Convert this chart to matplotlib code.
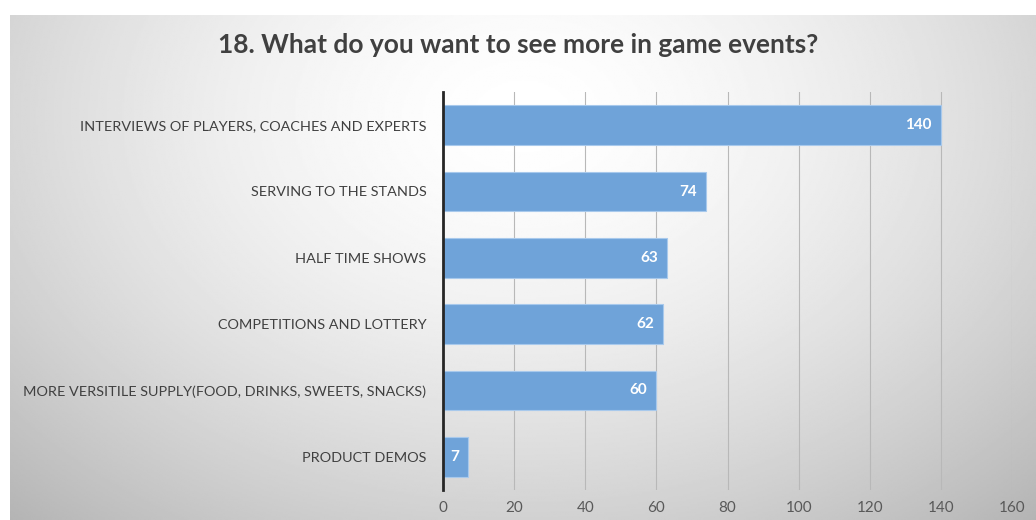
import numpy as np
import matplotlib
matplotlib.use("Agg")
import matplotlib.pyplot as plt

categories = [
    "INTERVIEWS OF PLAYERS, COACHES AND EXPERTS",
    "SERVING TO THE STANDS",
    "HALF TIME SHOWS",
    "COMPETITIONS AND LOTTERY",
    "MORE VERSITILE SUPPLY(FOOD, DRINKS, SWEETS, SNACKS)",
    "PRODUCT DEMOS",
]
values = [140, 74, 63, 62, 60, 7]
xticks = [0, 20, 40, 60, 80, 100, 120, 140, 160]
title = "18. What do you want to see more in game events?"

FONT = "Lato"
W, H = 1036, 520
fig = plt.figure(figsize=(W / 100, H / 100), dpi=100)
fig.patch.set_facecolor("white")

# radial grey gradient behind the chart, leaving a thin white margin top/left
bg = fig.add_axes([10 / W, 0, 1 - 10 / W, 1 - 15 / H])
yy, xx = np.mgrid[0:1:300j, 0:1:600j]
r = np.sqrt(((xx - 0.5) / 0.75) ** 2 + ((yy - 0.2) / 1.1) ** 2)
shade = 1.0 - 0.30 * np.clip(r, 0, 1) ** 1.6
bg.imshow(shade, cmap="gray", vmin=0, vmax=1, aspect="auto", extent=[0, 1, 1, 0])
bg.axis("off")

ax = fig.add_axes([443 / W, 1 - 490 / H, (1012 - 443) / W, (490 - 92) / H])
ax.patch.set_alpha(0)
y = np.arange(len(categories))
bars = ax.barh(y, values, height=0.6, color="#6fa3d9", edgecolor="#a8c9ec",
               linewidth=0.8, zorder=3)
ax.set_ylim(len(categories) - 0.5, -0.5)
ax.set_xlim(0, 160)
ax.set_xticks(xticks)
ax.set_yticks(y)
ax.set_yticklabels(categories, fontsize=10.4, color="#404040", family=FONT)
ax.tick_params(axis="both", length=0)
ax.tick_params(axis="y", pad=12)
ax.tick_params(axis="x", pad=8, labelsize=11, labelcolor="#595959")
for lbl in ax.get_xticklabels():
    lbl.set_family(FONT)
ax.grid(axis="x", color="#b8b8b8", linewidth=0.8, zorder=0)
for s in ["top", "right", "bottom"]:
    ax.spines[s].set_visible(False)
ax.spines["left"].set_color("#262626")
ax.spines["left"].set_linewidth(2)
ax.spines["left"].set_zorder(4)

for b, v in zip(bars, values):
    ax.text(v - 2.5, b.get_y() + b.get_height() / 2, str(v), ha="right", va="center",
            color="white", fontsize=11, fontweight="bold", family=FONT, zorder=5)

fig.text(0.5, 1 - 45 / H, title, ha="center", va="center", fontsize=19,
         fontweight="bold", color="#404040", family=FONT)

fig.savefig("out.png", dpi=100)
